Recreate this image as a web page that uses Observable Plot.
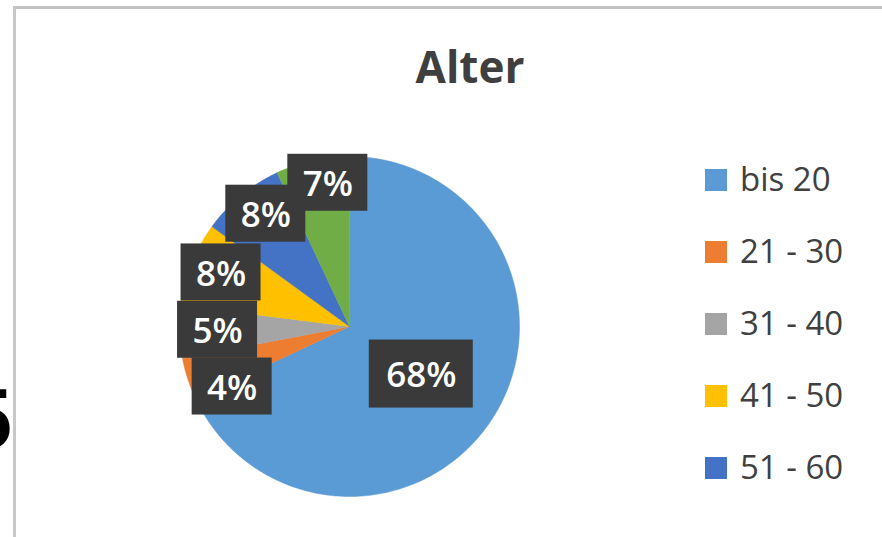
<!DOCTYPE html>
<html>
<head>
<meta charset="utf-8">
<script src="https://cdn.jsdelivr.net/npm/d3@7"></script>
<script src="https://cdn.jsdelivr.net/npm/@observablehq/plot@0.6"></script>
<style>
  html, body { margin: 0; padding: 0; background: #fff; }
  #wrap { position: relative; width: 882px; height: 537px; overflow: hidden; background: #fff; }
  #chart { position: absolute; left: 0; top: 0; }
  .frame { position: absolute; left: 13px; top: 6px; width: 900px; height: 600px;
           border-top: 3px solid #c3c3c3; border-left: 3px solid #c8c8c8; box-sizing: border-box; }
  .title { position: absolute; left: 0; width: 940px; top: 36px; text-align: center;
           font-family: "Open Sans", sans-serif; font-weight: 700; font-size: 44px; color: #3f3f3f; line-height: normal; }
  .five { position: absolute; left: -40px; width: 52px; top: 369px; text-align: right;
          font-family: "Liberation Sans", Arial, sans-serif; font-weight: 700; font-size: 86px; color: #000; line-height: normal; }
  .lg { position: absolute; left: 705px; font-family: "Open Sans", sans-serif; font-size: 33px; color: #404040; }
  .lg .sw { position: absolute; left: 0; width: 22px; height: 22px; }
  .lg .tx { position: absolute; left: 35px; white-space: nowrap; line-height: normal; }
</style>
</head>
<body>
<div id="wrap">
  <div class="frame"></div>
  <div id="chart"></div>
</div>
<script>
// ---- data ----
const categories = ["bis 20", "21 - 30", "31 - 40", "41 - 50", "51 - 60", "über 60"];
const shares = [68, 4, 5, 8, 8, 7];
const labels = ["68%", "4%", "5%", "8%", "8%", "7%"];
const palette = ["#5B9BD5", "#ED7D31", "#A5A5A5", "#FFC000", "#4472C4", "#70AD47"];
const visibleLegendItems = 5; // the sixth entry is cut off by the picture's bottom edge

// ---- layout ----
const W = 882, H = 537, R = 170, cx = 349, cy = 326;
const data = categories.map((c, i) => ({cat: c, value: shares[i], label: labels[i]}));
const arcs = d3.pie().sort(null).value(d => d.value)(data);

const pts = [];
arcs.forEach(a => {
  const c = a.data.cat;
  pts.push({cat: c, x: 0, y: 0});
  const n = Math.max(6, Math.ceil((a.endAngle - a.startAngle) / (Math.PI / 180)));
  for (let i = 0; i <= n; i++) {
    const t = a.startAngle + (a.endAngle - a.startAngle) * i / n;
    pts.push({cat: c, x: Math.sin(t), y: Math.cos(t)});
  }
});

// pixel nudges mimicking Excel's best-fit label placement
const nudges = [[0, 2], [12, 18], [4, -1], [-2, -4], [3, -8], [8, -11]];
const labelData = arcs.map((a, i) => {
  const mid = (a.startAngle + a.endAngle) / 2;
  const r = a.data.value > 50 ? 0.5 : 0.8;
  const lx = r * Math.sin(mid) + nudges[i][0] / R;
  const ly = r * Math.cos(mid) - nudges[i][1] / R;
  const wpx = a.data.label.length > 2 ? 104 : 80;
  const hpx = a.data.label.length > 2 ? 68 : 57;
  return {
    label: a.data.label, lx, ly,
    x1: lx - wpx / 2 / R, x2: lx + wpx / 2 / R,
    y1: ly - hpx / 2 / R, y2: ly + hpx / 2 / R
  };
});

const chart = Plot.plot({
  width: W, height: H,
  marginLeft: cx - R, marginRight: W - (cx + R),
  marginTop: cy - R, marginBottom: H - (cy + R),
  x: {domain: [-1, 1], axis: null},
  y: {domain: [-1, 1], axis: null},
  color: {domain: categories, range: palette},
  style: {background: "transparent", overflow: "visible"},
  marks: [
    Plot.line(pts, {x: "x", y: "y", z: "cat", fill: "cat", stroke: "cat", strokeWidth: 0.5, curve: "linear-closed"}),
    Plot.rect(labelData, {x1: "x1", x2: "x2", y1: "y1", y2: "y2", fill: "#3a3a3a"}),
    Plot.text(labelData, {x: "lx", y: "ly", dy: 2, text: "label", fill: "white", fontSize: 35, fontWeight: 600,
                          fontFamily: "Open Sans, sans-serif"})
  ]
});
document.getElementById("chart").appendChild(chart);

const wrap = document.getElementById("wrap");
const title = document.createElement("div");
title.className = "title";
title.textContent = "Alter";
wrap.appendChild(title);

const five = document.createElement("div");
five.className = "five";
five.textContent = "5";
wrap.appendChild(five);

const rowY = [180, 252, 324, 396, 468];
categories.slice(0, visibleLegendItems).forEach((c, i) => {
  const item = document.createElement("div");
  item.className = "lg";
  item.style.top = rowY[i] + "px";
  const sw = document.createElement("div");
  sw.className = "sw";
  sw.style.top = "-11px";
  sw.style.background = palette[i];
  const tx = document.createElement("div");
  tx.className = "tx";
  tx.style.top = "-24px";
  tx.textContent = c;
  item.appendChild(sw);
  item.appendChild(tx);
  wrap.appendChild(item);
});
</script>
</body>
</html>
